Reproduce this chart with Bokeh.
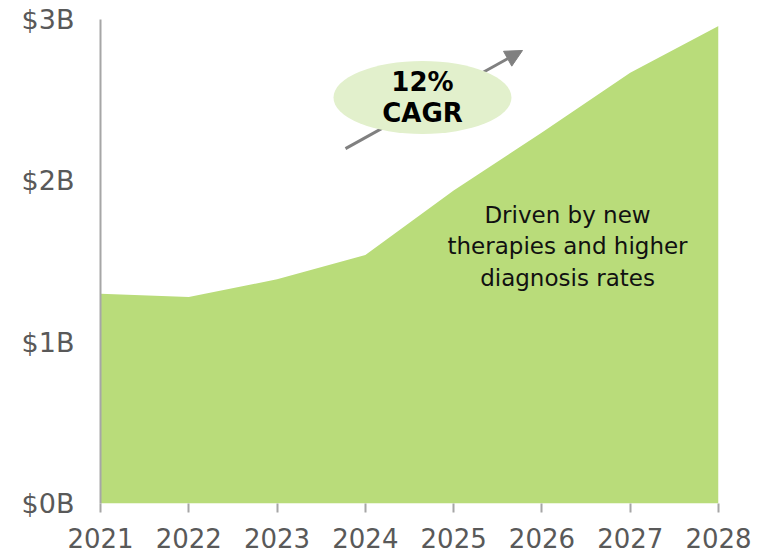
from bokeh.plotting import figure
from bokeh.models import Range1d, FixedTicker, Arrow, NormalHead, ColumnDataSource
from bokeh.core.properties import value
from bokeh.embed import file_html
from bokeh.resources import INLINE

years = [2021, 2022, 2023, 2024, 2025, 2026, 2027, 2028]
market_b = [1.30, 1.28, 1.39, 1.54, 1.94, 2.30, 2.67, 2.96]
y_ticks = [0, 1, 2, 3]
y_labels = {0: "$0B", 1: "$1B", 2: "$2B", 3: "$3B"}
cagr_text = ["12%", "CAGR"]
note_text = "Driven by new\ntherapies and higher\ndiagnosis rates"

FONT = "DejaVu Sans"
GREEN = "#b9dc7a"

p = figure(width=761, height=554, output_backend="svg", toolbar_location=None,
           x_range=Range1d(2021, 2028), y_range=Range1d(0, 3),
           min_border_left=100, min_border_right=43, min_border_top=19, min_border_bottom=51)
p.outline_line_color = None
p.xgrid.grid_line_color = None
p.ygrid.grid_line_color = None
p.background_fill_color = "white"
p.border_fill_color = "white"

src = ColumnDataSource(dict(x=years, y=market_b, y0=[0] * len(years)))
p.varea(x="x", y1="y0", y2="y", source=src, fill_color=GREEN)

# arrow (behind ellipse)
arrow = Arrow(x_start=2023.775, y_start=2.20, x_end=2025.78, y_end=2.808,
              line_color="#808080", line_width=3, level="underlay",
              end=NormalHead(size=17, fill_color="#808080", line_color="#808080"))
p.add_layout(arrow)

p.ellipse(x=[2024.647], y=[2.5165], width=2.016, height=0.4525,
          fill_color="#e2f0cc", line_color=None)
p.text(x=[2024.647, 2024.647], y=[2.615, 2.42], text=cagr_text,
       text_font=value(FONT), text_font_size="26px", text_font_style="bold",
       text_color="black", text_align="center", text_baseline="middle")

p.text(x=[2026.29], y=[1.593], text=[note_text], text_font=value(FONT),
       text_font_size="23px", text_color="#111111", text_align="center",
       text_baseline="middle", text_line_height=1.2)

# axes
xa = p.xaxis[0]
xa.ticker = FixedTicker(ticks=years)
xa.axis_line_color = None
xa.major_tick_line_color = "#a6a6a6"
xa.major_tick_line_width = 2
xa.major_tick_in = 0
xa.major_tick_out = 9
xa.minor_tick_line_color = None
xa.major_label_text_font = FONT
xa.major_label_text_font_size = "26px"
xa.major_label_text_color = "#595959"
xa.major_label_standoff = 15

ya = p.yaxis[0]
ya.ticker = FixedTicker(ticks=y_ticks)
ya.major_label_overrides = y_labels
ya.axis_line_color = "#a6a6a6"
ya.axis_line_width = 2
ya.major_tick_line_color = None
ya.major_tick_in = 0
ya.major_tick_out = 0
ya.minor_tick_line_color = None
ya.major_label_text_font = FONT
ya.major_label_text_font_size = "27px"
ya.major_label_text_color = "#595959"
ya.major_label_standoff = 26

open("out.html", "w").write(file_html(p, INLINE))
